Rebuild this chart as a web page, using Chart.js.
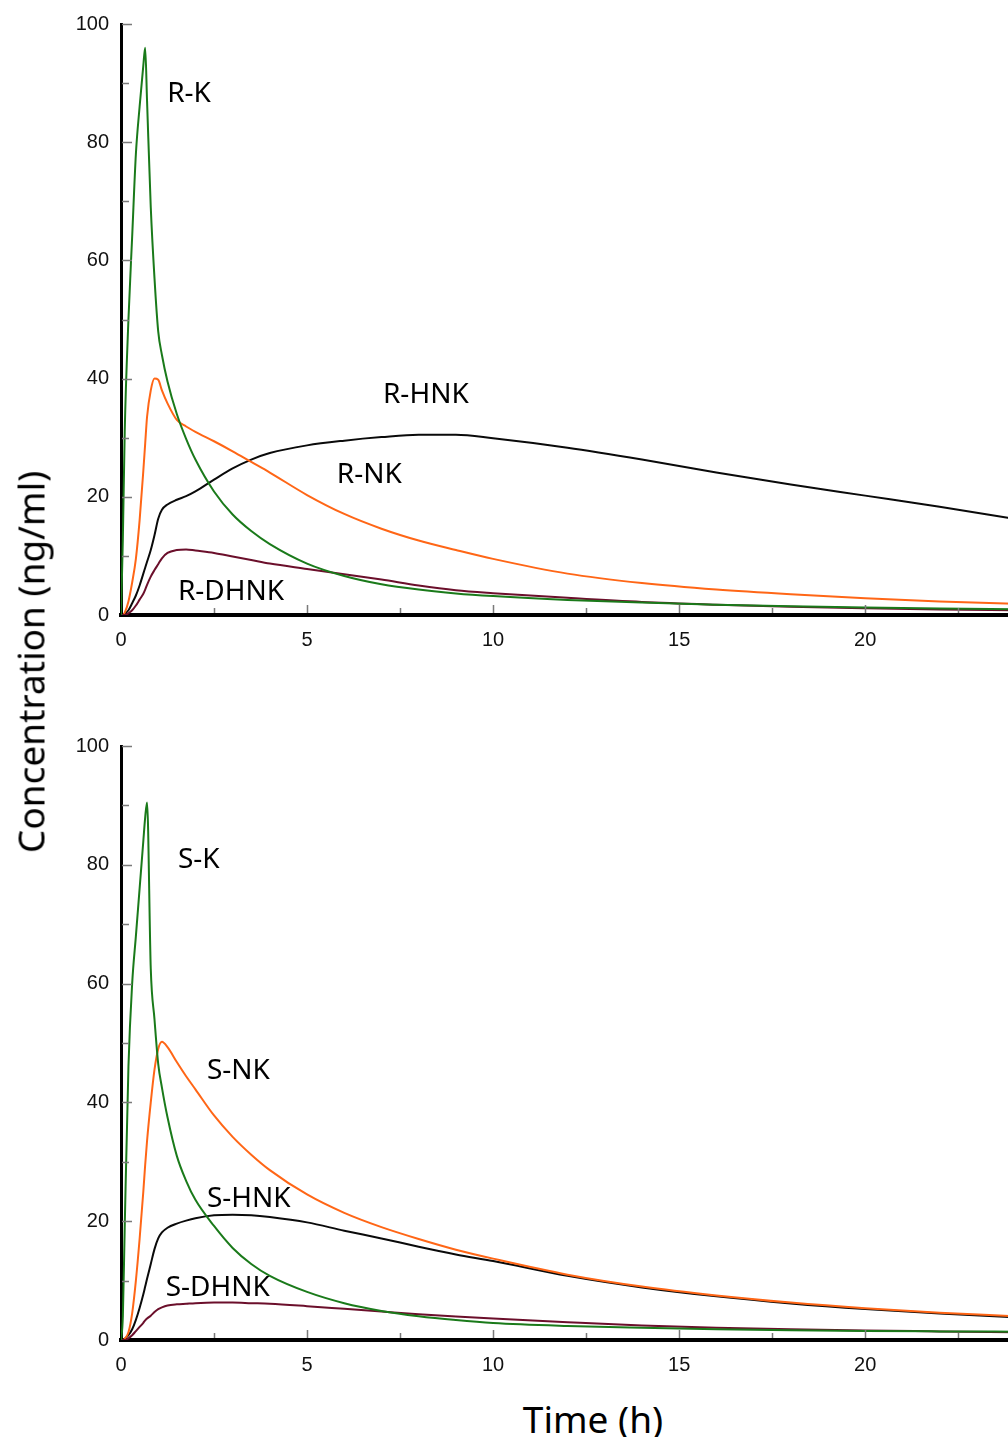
<!doctype html>
<html>
	<head>
		<title>Plasma concentrations of ketamine and metabolites</title>
		<meta charset="utf-8">
		<script src="https://cdn.jsdelivr.net/npm/chart.js@4.4.1/dist/chart.umd.min.js"></script>
		<style>
			html, body { margin: 0; padding: 0; overflow: hidden; background: #fff; width: 1008px; height: 1437px; }
			canvas { position: absolute; left: 0; }
			#chartR { top: 0; }
			#chartS { top: 722px; }
			.axis-title { position: absolute; font-family: "Noto Sans", sans-serif; font-size: 37px; color: #000; white-space: nowrap; line-height: 1; }
			#ytitle { left: 30px; top: 662px; transform: translate(-50%, -50%) rotate(-90deg); }
			#xtitle { left: 593px; top: 1418px; transform: translate(-50%, -50%); }
		</style>
	</head>
	<body>
		<canvas id="chartR" width="1020" height="660"></canvas>
		<canvas id="chartS" width="1020" height="663"></canvas>
		<div class="axis-title" id="ytitle">Concentration (ng/ml)</div>
		<div class="axis-title" id="xtitle">Time (h)</div>

<script>
// time points (h)
var hours = [0, 0.05, 0.1, 0.2, 0.3, 0.4, 0.5, 0.6, 0.65, 0.7, 0.8, 0.9, 1.0, 1.1, 1.25, 1.5, 1.75, 2, 2.5, 3,
             3.5, 4, 5, 6, 7, 8, 9, 10, 12, 14, 16, 18, 20, 22, 24];

// R-enantiomer panel (ng/ml)
var rK    = [0, 13, 31, 50, 64, 78, 86, 93, 96, 87, 69, 57, 48, 44, 39.5, 34, 29.8, 26.3, 20.9, 17,
             14.2, 12, 8.7, 6.6, 5.2, 4.3, 3.65, 3.2, 2.55, 2.1, 1.75, 1.48, 1.27, 1.1, 0.97];
var rNK   = [0, 0, 0.4, 2.3, 5.5, 9.5, 16, 24.4, 29, 33.5, 38, 40, 39.8, 38, 35.8, 33, 31.9, 31, 29.4, 27.7,
             25.9, 24.1, 20.3, 17.1, 14.6, 12.6, 11, 9.5, 7.0, 5.4, 4.3, 3.5, 2.85, 2.3, 1.9];
var rHNK  = [0, 0, 0.2, 0.8, 2, 3.3, 5, 7, 8, 9, 11, 13.5, 16.3, 17.8, 18.7, 19.5, 20.1, 20.9, 22.9, 24.8,
             26.3, 27.4, 28.7, 29.5, 30.1, 30.5, 30.5, 29.9, 28.3, 26.3, 24.1, 22.1, 20.2, 18.3, 16.3];
var rDHNK = [0, 0, 0, 0.3, 0.8, 1.6, 2.6, 3.6, 4.3, 5.1, 6.5, 7.6, 8.6, 9.6, 10.5, 11, 11.1, 10.9, 10.5, 9.9,
             9.3, 8.7, 7.8, 6.9, 6.0, 5.0, 4.2, 3.7, 2.9, 2.2, 1.75, 1.4, 1.15, 0.95, 0.8];

// S-enantiomer panel (ng/ml)
var sK    = [0, 4, 19, 46, 60, 68, 76, 84, 88, 90.5, 62.5, 54, 46.5, 42.5, 37.5, 31, 26.8, 23.6, 19.2, 15.5,
             12.8, 10.8, 8.1, 6.2, 4.9, 4.0, 3.35, 2.85, 2.35, 2.05, 1.82, 1.64, 1.52, 1.45, 1.4];
var sNK   = [0, 0, 0.2, 1.3, 4.5, 10, 17, 25, 29.5, 33.5, 40, 45.5, 49, 50.2, 49.3, 46.8, 44.4, 42.2, 37.8, 34.2,
             31.2, 28.6, 24.5, 21.4, 19.0, 17.0, 15.2, 13.7, 11.0, 9.0, 7.5, 6.3, 5.35, 4.6, 4.0];
var sHNK  = [0, 0, 0.2, 0.8, 1.8, 3.4, 5.4, 7.7, 9.0, 10.3, 12.8, 15.3, 17.1, 18.1, 18.9, 19.6, 20.1, 20.5, 21.0, 21.1,
             21.0, 20.7, 19.8, 18.4, 17.1, 15.7, 14.4, 13.3, 10.8, 8.85, 7.35, 6.15, 5.2, 4.45, 3.85];
var sDHNK = [0, 0, 0, 0.3, 0.8, 1.5, 2.2, 2.9, 3.3, 3.6, 4.1, 4.7, 5.2, 5.5, 5.8, 6.0, 6.1, 6.2, 6.3, 6.3,
             6.2, 6.1, 5.7, 5.25, 4.8, 4.35, 3.95, 3.6, 3.0, 2.45, 2.05, 1.8, 1.6, 1.45, 1.3];

// curve names and where they sit (hours, ng/ml)
var rLabels = [
	{ text: 'R-K',    t: 1.24, c: 88.2 },
	{ text: 'R-HNK',  t: 7.04, c: 37.3 },
	{ text: 'R-NK',   t: 5.8,  c: 23.6 },
	{ text: 'R-DHNK', t: 1.53, c: 3.9 }
];
var sLabels = [
	{ text: 'S-K',    t: 1.53, c: 80.8 },
	{ text: 'S-NK',   t: 2.31, c: 45.2 },
	{ text: 'S-HNK',  t: 2.31, c: 23.7 },
	{ text: 'S-DHNK', t: 1.2,  c: 8.7 }
];

var GREEN = '#1a7a1a', ORANGE = '#ff6616', BLACK = '#0a0a0a', MAROON = '#6b0f2b';

function line(values, color) {
	return {
		data: hours.map(function(t, i) { return { x: t, y: values[i] }; }),
		borderColor: color,
		borderWidth: 2,
		pointRadius: 0,
		fill: false,
		cubicInterpolationMode: 'monotone'
	};
}

// small inward tick marks, like the original plot
var innerTicks = {
	id: 'innerTicks',
	afterDraw: function(chart) {
		var ctx = chart.ctx, x = chart.scales.x, y = chart.scales.y;
		ctx.save();
		ctx.strokeStyle = '#7a7a7a';
		ctx.lineWidth = 1.5;
		ctx.beginPath();
		for (var v = 10; v <= y.max; v += 10) {
			var py = Math.round(y.getPixelForValue(v)) + 0.5;
			ctx.moveTo(x.left + 1, py);
			ctx.lineTo(x.left + (v % 20 === 0 ? 11 : 8), py);
		}
		for (var h = 2.5; h <= x.max; h += 2.5) {
			var px = Math.round(x.getPixelForValue(h)) + 0.5;
			ctx.moveTo(px, y.bottom - 2);
			ctx.lineTo(px, y.bottom - (h % 5 === 0 ? 10 : 7));
		}
		ctx.stroke();
		ctx.restore();
	}
};

var curveLabels = {
	id: 'curveLabels',
	afterDatasetsDraw: function(chart, args, opts) {
		var ctx = chart.ctx, x = chart.scales.x, y = chart.scales.y;
		ctx.save();
		ctx.font = '28px "Noto Sans"';
		ctx.fillStyle = '#000';
		ctx.textAlign = 'left';
		ctx.textBaseline = 'middle';
		opts.items.forEach(function(it) {
			ctx.fillText(it.text, x.getPixelForValue(it.t), y.getPixelForValue(it.c));
		});
		ctx.restore();
	}
};

function options(labels) {
	var tickFont = { family: 'Liberation Sans', size: 20 };
	return {
		responsive: false,
		animation: false,
		layout: { padding: { top: 20, right: 6, left: 0, bottom: 0 } },
		plugins: {
			legend: { display: false },
			tooltip: { enabled: false },
			curveLabels: { items: labels }
		},
		scales: {
			x: {
				type: 'linear',
				min: 0,
				max: 24,
				grid: { display: false, drawTicks: false, tickLength: 0 },
				border: { display: true, color: '#000', width: 4 },
				ticks: {
					stepSize: 2.5,
					includeBounds: false,
					autoSkip: false,
					maxRotation: 0,
					padding: 13,
					color: '#111',
					font: tickFont,
					callback: function(v) { return v % 5 === 0 ? v : ''; }
				},
				afterFit: function(scale) { scale.height = 45; }
			},
			y: {
				min: 0,
				max: 100,
				grid: { display: false, drawTicks: false, tickLength: 0 },
				border: { display: true, color: '#000', width: 3 },
				ticks: {
					stepSize: 10,
					padding: 12,
					color: '#111',
					font: tickFont,
					callback: function(v) { return v % 20 === 0 ? v : ''; }
				},
				afterFit: function(scale) { scale.width = 121; }
			}
		}
	};
}

new Chart(document.getElementById('chartR'), {
	type: 'line',
	data: { datasets: [line(rK, GREEN), line(rDHNK, MAROON), line(rNK, ORANGE), line(rHNK, BLACK)] },
	options: options(rLabels),
	plugins: [innerTicks, curveLabels]
});

new Chart(document.getElementById('chartS'), {
	type: 'line',
	data: { datasets: [line(sK, GREEN), line(sDHNK, MAROON), line(sNK, ORANGE), line(sHNK, BLACK)] },
	options: options(sLabels),
	plugins: [innerTicks, curveLabels]
});
</script>
	</body>
</html>
